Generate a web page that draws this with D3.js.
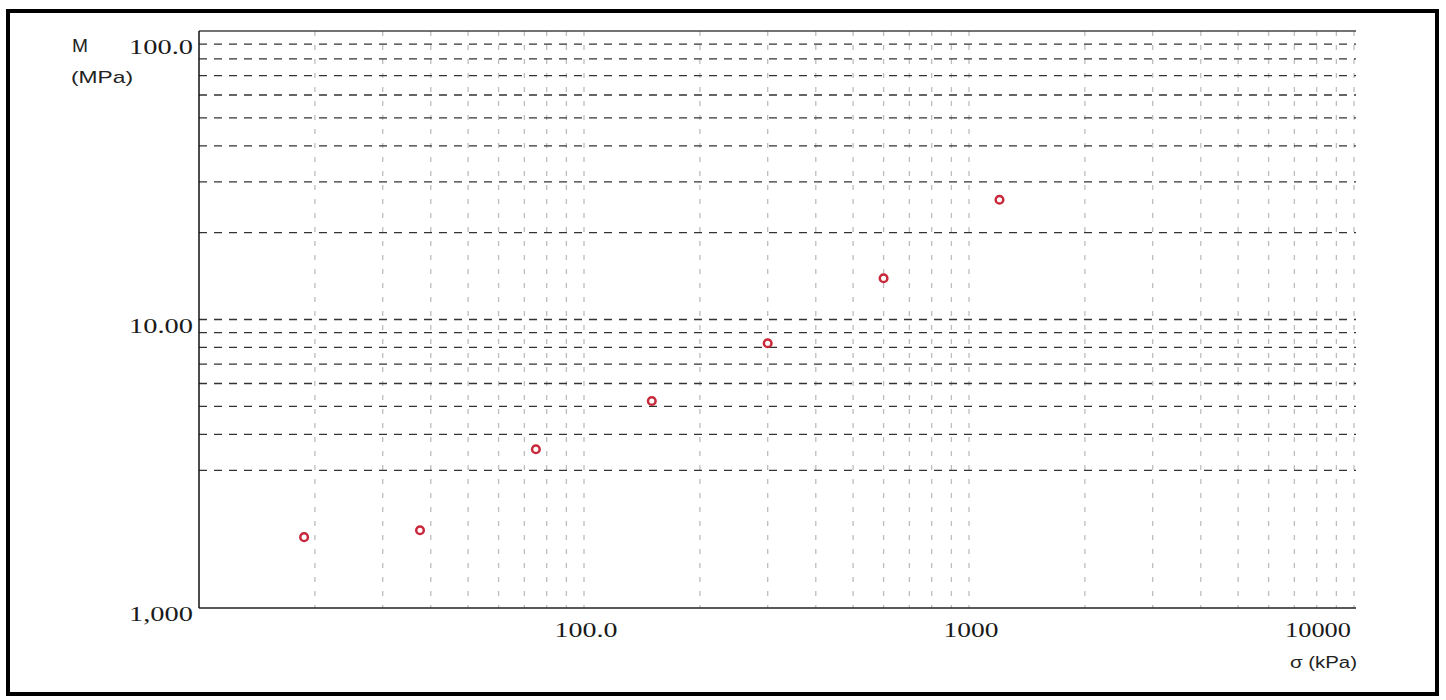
<!DOCTYPE html>
<html>
<head>
<meta charset="utf-8">
<script src="https://cdnjs.cloudflare.com/ajax/libs/d3/7.8.5/d3.min.js"></script>
<style>
  html, body { margin: 0; padding: 0; background: #fff; }
  svg { display: block; }
</style>
</head>
<body>
<svg id="chart" width="1446" height="700"></svg>
<script>
// ---- data ----
const stressKPa = [18.75, 37.5, 75, 150, 300, 600, 1200];
const modulusMPa = [1.76, 1.86, 3.55, 5.22, 8.27, 13.9, 26.0];
const xGridValues = [20, 30, 40, 50, 60, 70, 80, 90, 100, 200, 300, 400, 500, 600, 700, 800, 900, 1000, 2000, 3000, 4000, 5000, 6000, 7000, 8000, 9000, 10000];
const yGridValues = [90, 80, 70, 60, 50, 40, 30, 20, 10, 9, 8, 7, 6, 5, 4, 3];
const xTickValues = [100, 1000, 10000];
const xTickLabels = ["100.0", "1000", "10000"];
const yTickValues = [100, 10, 1];
const yTickLabels = ["100.0", "10.00", "1,000"];
const yAxisTitle = ["M", "(MPa)"];
const xAxisTitle = "σ (kPa)";

(function () {
// ---- layout ----
const svg = d3.select("#chart");
const pLeft = 199, pRight = 1354, pTop = 31, pBottom = 608;
const x = d3.scaleLog().domain([10, 10000]).range([pLeft, pRight]);
const y = d3.scaleLog().domain([1, 100]).range([pBottom, pTop]);

// outer frame
svg.append("rect").attr("x", 8).attr("y", 11).attr("width", 1429).attr("height", 683)
  .attr("fill", "none").attr("stroke", "#000").attr("stroke-width", 4);

// vertical grid (light gray dashed)
svg.append("g").selectAll("line").data(xGridValues).join("line")
  .attr("x1", d => x(d)).attr("x2", d => x(d))
  .attr("y1", pTop).attr("y2", pBottom)
  .attr("stroke", "#bdbdbd").attr("stroke-width", 1.3)
  .attr("stroke-dasharray", "5,9");

// horizontal grid (dark dashed)
svg.append("g").selectAll("line").data(yGridValues).join("line")
  .attr("x1", pLeft).attr("x2", pRight + 2)
  .attr("y1", d => y(d)).attr("y2", d => y(d))
  .attr("stroke", "#333").attr("stroke-width", 1.3)
  .attr("stroke-dasharray", "8,7");

// axis lines
svg.append("line").attr("x1", pLeft).attr("x2", pRight + 2).attr("y1", pTop).attr("y2", pTop)
  .attr("stroke", "#444").attr("stroke-width", 1.3);
svg.append("line").attr("x1", pLeft).attr("x2", pRight + 2).attr("y1", pBottom).attr("y2", pBottom)
  .attr("stroke", "#222").attr("stroke-width", 1.3);
svg.append("line").attr("x1", pLeft).attr("x2", pLeft).attr("y1", pTop).attr("y2", pBottom)
  .attr("stroke", "#111").attr("stroke-width", 1.5);

// y tick labels (serif, stretched)
svg.append("g").selectAll("text").data(yTickValues).join("text")
  .attr("x", 193)
  .attr("y", d => y(d) + (d === 100 ? 18 : 8))
  .attr("text-anchor", "end")
  .attr("dominant-baseline", "middle")
  .attr("font-family", "'Liberation Serif', 'Times New Roman', serif")
  .attr("font-size", 22)
  .attr("fill", "#1a1a1a")
  .attr("textLength", 64)
  .attr("lengthAdjust", "spacingAndGlyphs")
  .text((d, i) => yTickLabels[i]);

// x tick labels
const xLabelWidths = [63, 55, 66];
svg.append("g").selectAll("text").data(xTickValues).join("text")
  .attr("x", d => d === 10000 ? x(d) - 3 : x(d) + 2)
  .attr("y", 632)
  .attr("text-anchor", d => d === 10000 ? "end" : "middle")
  .attr("dominant-baseline", "middle")
  .attr("font-family", "'Liberation Serif', 'Times New Roman', serif")
  .attr("font-size", 22)
  .attr("fill", "#1a1a1a")
  .attr("textLength", (d, i) => xLabelWidths[i])
  .attr("lengthAdjust", "spacingAndGlyphs")
  .text((d, i) => xTickLabels[i]);

// axis titles
svg.append("text").attr("x", 72).attr("y", 52)
  .attr("font-family", "'Liberation Sans', Arial, sans-serif").attr("font-size", 19)
  .attr("fill", "#222").attr("textLength", 16).attr("lengthAdjust", "spacingAndGlyphs")
  .text(yAxisTitle[0]);
svg.append("text").attr("x", 71).attr("y", 83)
  .attr("font-family", "'Liberation Sans', Arial, sans-serif").attr("font-size", 17)
  .attr("fill", "#222").attr("textLength", 62).attr("lengthAdjust", "spacingAndGlyphs")
  .text(yAxisTitle[1]);
svg.append("text").attr("x", 1357).attr("y", 668)
  .attr("text-anchor", "end")
  .attr("font-family", "'Liberation Sans', Arial, sans-serif").attr("font-size", 16)
  .attr("fill", "#222").attr("textLength", 67).attr("lengthAdjust", "spacingAndGlyphs")
  .text(xAxisTitle);

// data points (hollow red circles)
const pts = stressKPa.map((s, i) => ({ s, m: modulusMPa[i] }));
svg.append("g").selectAll("circle").data(pts).join("circle")
  .attr("cx", d => x(d.s)).attr("cy", d => y(d.m))
  .attr("r", 3.8)
  .attr("fill", "#fff")
  .attr("stroke", "#c8283a")
  .attr("stroke-width", 2.5);
})();
</script>
</body>
</html>
